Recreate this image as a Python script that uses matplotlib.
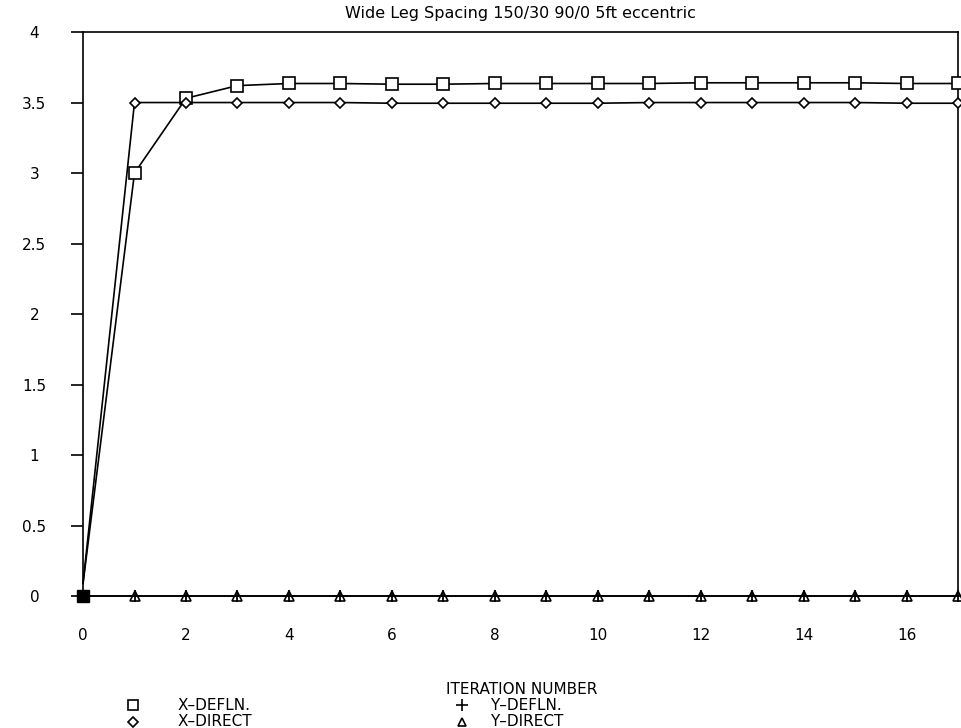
import matplotlib
matplotlib.use('Agg')
import matplotlib.pyplot as plt
from matplotlib.lines import Line2D

# ============================================================
# DATA
# ============================================================
iterations = list(range(18))
x_defln  = [0.09, 3.00, 3.53, 3.62, 3.635, 3.635, 3.63, 3.63, 3.635, 3.635,
            3.635, 3.635, 3.64, 3.64, 3.64, 3.64, 3.635, 3.635]
x_direct = [0.09, 3.50, 3.50, 3.50, 3.50, 3.50, 3.495, 3.495, 3.495, 3.495,
            3.495, 3.50, 3.50, 3.50, 3.50, 3.50, 3.495, 3.495]
y_defln  = [0.0] * 18
y_direct = [0.0] * 18

title  = 'Wide Leg Spacing 150/30 90/0 5ft eccentric'
xlabel = 'ITERATION NUMBER'
xticks = [0, 2, 4, 6, 8, 10, 12, 14, 16]
yticks = [0, 0.5, 1, 1.5, 2, 2.5, 3, 3.5, 4]
ytick_labels = ['0', '0.5', '1', '1.5', '2', '2.5', '3', '3.5', '4']
legend_names = ['X\u2013DEFLN.', 'X\u2013DIRECT', 'Y\u2013DEFLN.', 'Y\u2013DIRECT']

# ============================================================
# PLOT
# ============================================================
fig = plt.figure(figsize=(9.61, 7.28), dpi=100)
ax = fig.add_axes([0.0864, 0.1813, 0.9105, 0.7747])

lw = 1.2
ax.plot(iterations, x_defln, color='black', lw=lw, marker='s', ms=9, mfc='white',
        mec='black', mew=1.2, markevery=range(1, 18), clip_on=False, zorder=3)
ax.plot(iterations, x_direct, color='black', lw=lw, marker='D', ms=5.5, mfc='white',
        mec='black', mew=1.2, markevery=range(1, 18), clip_on=False, zorder=3)
ax.plot(iterations, y_direct, color='black', lw=lw, marker='^', ms=7, mfc='white',
        mec='black', mew=1.2, markevery=range(1, 18), clip_on=False, zorder=3)
ax.plot(iterations, y_defln, color='black', lw=lw, marker='+', ms=9,
        mec='black', mew=1.3, markevery=range(1, 18), clip_on=False, zorder=4)
# overlapping markers at the origin
ax.plot(iterations[:1], y_defln[:1], ls='none', marker='s', ms=9, color='black',
        clip_on=False, zorder=5)

ax.set_xlim(0, 17)
ax.set_ylim(0, 4)
ax.spines['bottom'].set_visible(False)
for s in ['left', 'right', 'top']:
    ax.spines[s].set_linewidth(1.2)

ax.set_xticks(xticks)
ax.set_xticklabels([str(t) for t in xticks], fontsize=11)
ax.tick_params(axis='x', length=0, pad=23)
ax.set_yticks(yticks)
ax.set_yticklabels(ytick_labels, fontsize=11, ha='center')
ax.tick_params(axis='y', length=9, width=1.2, pad=26)

ax.set_title(title, fontsize=11.5, pad=10)

fig.text(0.543, 1 - 690 / 728, xlabel, fontsize=11, ha='center', va='center')

# legend block below the axes
legend_markers = [('s', 7), ('D', 5), ('+', 8), ('^', 6)]
legend_pos = [(133, 178, 705), (133, 178, 722), (462, 490, 705), (462, 490, 722)]
for name, (mk, ms), (mx, tx, ty) in zip(legend_names, legend_markers, legend_pos):
    fig.add_artist(Line2D([mx / 961], [1 - ty / 728], ls='none', marker=mk, ms=ms,
                          mfc='white', mec='black', mew=1.2,
                          transform=fig.transFigure))
    fig.text(tx / 961, 1 - ty / 728, name, fontsize=11, ha='left', va='center')

plt.savefig('out.png', dpi=100)
plt.close()
